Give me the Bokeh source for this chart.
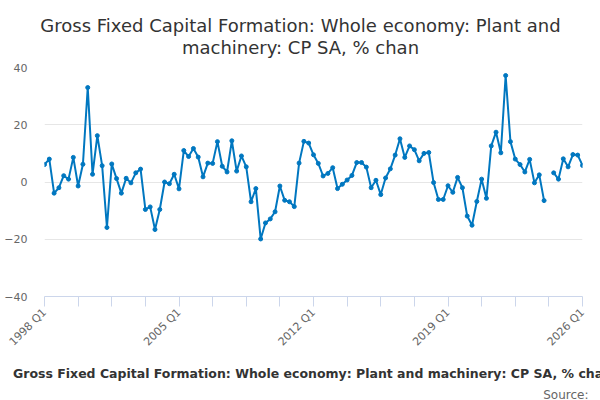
import math
from bokeh.plotting import figure
from bokeh.layouts import column
from bokeh.models import (Range1d, FixedTicker, Legend, LegendItem, ColumnDataSource, Label)
from bokeh.embed import file_html
from bokeh.resources import INLINE

NAN = float("nan")

# ---- data ----
quarters = [f"{1998 + i // 4} Q{i % 4 + 1}" for i in range(113)]  # 1998 Q1 .. 2026 Q1
values = [
    6.1, 8.0, -3.9, -2.0, 2.2, 1.0, 8.6, -1.4, 6.2, 33.0,
    2.7, 16.2, 5.7, -15.9, 6.3, 1.2, -3.9, 1.3, -0.3, 3.2,
    4.5, -9.6, -8.7, -16.6, -9.6, 0.0, -0.6, 2.7, -2.4, 11.0,
    8.9, 11.7, 8.7, 1.8, 6.6, 6.5, 14.1, 5.5, 3.5, 14.4,
    3.8, 9.1, 5.3, -6.9, -2.3, -19.9, -14.3, -12.9, -10.4, -1.4,
    -6.4, -6.9, -8.6, 6.6, 14.2, 13.6, 9.5, 6.5, 2.1, 3.0,
    5.0, -2.3, -0.8, 0.7, 2.3, 6.8, 6.8, 5.2, -2.0, 0.6,
    -4.4, 1.4, 4.6, 9.4, 15.1, 8.6, 12.6, 11.3, 7.4, 10.0,
    10.3, -0.2, -6.1, -6.1, -1.3, -3.6, 1.6, -2.0, -11.9, -15.1,
    -6.8, 1.0, -5.7, 12.6, 17.4, 10.2, 37.2, 14.1, 8.0, 6.1,
    3.5, 7.9, -0.3, 2.5, -6.5, NAN, 3.2, 1.0, 8.1, 5.3,
    9.6, 9.4, 5.8,
]
x_tick_labels = ["1998 Q1", "2005 Q1", "2012 Q1", "2019 Q1", "2026 Q1"]
y_ticks = [-40, -20, 0, 20, 40]
series_name = "Gross Fixed Capital Formation: Whole economy: Plant and machinery: CP SA, % chan"
title_lines = ["Gross Fixed Capital Formation: Whole economy: Plant and",
               "machinery: CP SA, % chan"]
source_text = "Source:"

# ---- styles ----
FONT = "DejaVu Sans"
LINE_COLOR = "#0077c0"
AXIS_COLOR = "#ccd6eb"
GRID_COLOR = "#e6e6e6"
LABEL_COLOR = "#666666"
TEXT_COLOR = "#333333"
W = 600


def overlay_fig(top, bottom):
    """A figure whose frame is its whole canvas; data units equal page pixels."""
    f = figure(width=W, height=bottom - top, output_backend="svg", toolbar_location=None,
               x_axis_type=None, y_axis_type=None, title_location=None, frame_align=False,
               x_range=Range1d(0, W), y_range=Range1d(bottom, top), min_border=0)
    f.outline_line_color = None
    f.background_fill_color = "white"
    f.border_fill_color = "white"
    return f


# ---- title strip ----
p0 = overlay_fig(0, 60)
for line_text, base in zip(title_lines, [25, 46.5]):
    p0.add_layout(Label(x=W / 2, y=base, text=line_text, text_align="center",
                        text_baseline="alphabetic", text_font=FONT, text_font_size="18px",
                        text_color=TEXT_COLOR))

# ---- main chart ----
idx = list(range(len(quarters)))
src = ColumnDataSource(dict(x=idx, y=values, q=quarters))

p = figure(width=W, height=296, output_backend="svg", toolbar_location=None,
           title_location=None, frame_align=False,
           x_range=Range1d(0, len(quarters) - 1), y_range=Range1d(y_ticks[0], y_ticks[-1]),
           min_border_left=44, min_border_right=18, min_border_top=7, min_border_bottom=59)
p.outline_line_color = None
p.background_fill_color = "white"
p.border_fill_color = "white"
p.xgrid.visible = False
p.ygrid.grid_line_color = GRID_COLOR
p.ygrid.grid_line_width = 1

tick_idx = list(range(0, len(quarters), 7))
xa = p.xaxis[0]
xa.ticker = FixedTicker(ticks=tick_idx)
xa.major_label_overrides = {i: (quarters[i] if quarters[i] in x_tick_labels else "") for i in tick_idx}
xa.axis_line_color = AXIS_COLOR
xa.major_tick_line_color = AXIS_COLOR
xa.major_tick_out = 10
xa.major_tick_in = 0
xa.minor_tick_line_color = None
xa.major_label_orientation = math.pi / 4
xa.major_label_standoff = 4
xa.major_label_text_font = FONT
xa.major_label_text_font_size = "11px"
xa.major_label_text_color = LABEL_COLOR

ya = p.yaxis[0]
ya.ticker = FixedTicker(ticks=y_ticks)
ya.axis_line_color = None
ya.major_tick_line_color = None
ya.major_tick_out = 0
ya.major_tick_in = 0
ya.minor_tick_line_color = None
ya.major_label_standoff = 17
ya.major_label_text_font = FONT
ya.major_label_text_font_size = "11px"
ya.major_label_text_color = LABEL_COLOR

p.line("x", "y", source=src, line_width=2, color=LINE_COLOR)
p.scatter("x", "y", source=src, size=4, color=LINE_COLOR)

# ---- legend / source strip ----
p2 = overlay_fig(356, 400)
key_src = ColumnDataSource(dict(x=[], y=[]))
kl = p2.line("x", "y", source=key_src, line_width=2, color=LINE_COLOR)
ks = p2.scatter("x", "y", source=key_src, size=4, color=LINE_COLOR)
legend = Legend(items=[LegendItem(label=series_name, renderers=[kl, ks])],
                location=(-8, 17), orientation="horizontal",
                padding=0, margin=0, spacing=0, glyph_width=16, glyph_height=20,
                label_standoff=5, label_height=20,
                label_text_font=FONT, label_text_font_size="12.5px",
                label_text_font_style="bold", label_text_color=TEXT_COLOR,
                border_line_color=None, background_fill_alpha=0)
p2.add_layout(legend, "center")
p2.add_layout(Label(x=588, y=394, text=source_text, text_align="right",
                    text_baseline="alphabetic", text_font=FONT, text_font_size="12px",
                    text_color=LABEL_COLOR))

layout = column(p0, p, p2, spacing=0)
open("out.html", "w").write(file_html(layout, INLINE))
